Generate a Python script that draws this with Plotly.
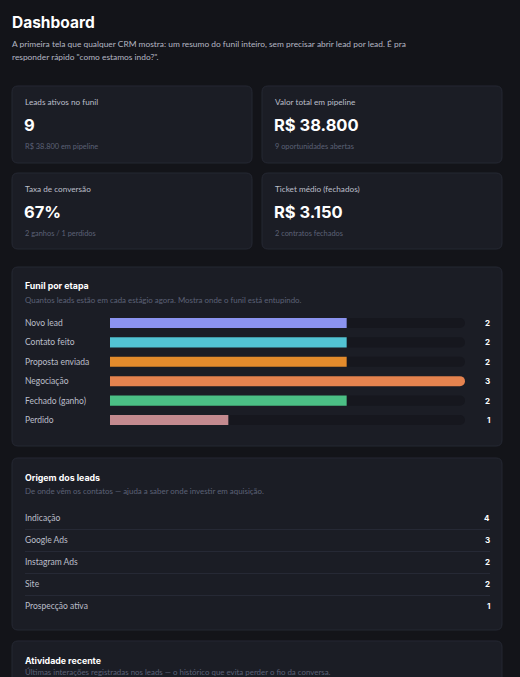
import plotly.graph_objects as go

W, H = 520, 677

# ---------------- data ----------------
page_title = "Dashboard"
page_sub = ["A primeira tela que qualquer CRM mostra: um resumo do funil inteiro, sem precisar abrir lead por lead. É pra",
            "responder rápido \"como estamos indo?\"."]

kpi_labels = ["Leads ativos no funil", "Valor total em pipeline", "Taxa de conversão", "Ticket médio (fechados)"]
kpi_values = ["9", "R$ 38.800", "67%", "R$ 3.150"]
kpi_subs = ["R$ 38.800 em pipeline", "9 oportunidades abertas", "2 ganhos / 1 perdidos", "2 contratos fechados"]

stages = ["Novo lead", "Contato feito", "Proposta enviada", "Negociação", "Fechado (ganho)", "Perdido"]
stage_counts = [2, 2, 2, 3, 2, 1]
stage_colors = ["#8b93ef", "#52c3d3", "#e38b2c", "#e5834f", "#4bbf85", "#c48a8f"]

sources = ["Indicação", "Google Ads", "Instagram Ads", "Site", "Prospecção ativa"]
source_counts = [4, 3, 2, 2, 1]

# ---------------- style ----------------
BG = "#131419"
CARD = "#1b1d25"
BORDER = "#252833"
LBL = "#bcbfca"
MUTED = "#5c6176"
BODY = "Lato"
HEAD = "Inter"


def px(x):
    return x / W


def py(y):
    return 1 - y / H


def rrect(x0, y0, x1, y1, r=6):
    X = lambda v: f"{px(v):.5f}"
    Y = lambda v: f"{py(v):.5f}"
    return (f"M{X(x0+r)},{Y(y0)} L{X(x1-r)},{Y(y0)} Q{X(x1)},{Y(y0)} {X(x1)},{Y(y0+r)} "
            f"L{X(x1)},{Y(y1-r)} Q{X(x1)},{Y(y1)} {X(x1-r)},{Y(y1)} "
            f"L{X(x0+r)},{Y(y1)} Q{X(x0)},{Y(y1)} {X(x0)},{Y(y1-r)} "
            f"L{X(x0)},{Y(y0+r)} Q{X(x0)},{Y(y0)} {X(x0+r)},{Y(y0)} Z")


shapes = []
annotations = []


def card(x0, y0, x1, y1):
    shapes.append(dict(type="path", path=rrect(x0, y0, x1, y1), xref="paper", yref="paper",
                       fillcolor=CARD, line=dict(color=BORDER, width=1), layer="below"))


def text(x, y, s, size, color, family=BODY, anchor="left", bold=False):
    annotations.append(dict(x=px(x), y=py(y), xref="paper", yref="paper", text=(f"<b>{s}</b>" if bold else s),
                            showarrow=False, xanchor=anchor, yanchor="middle", borderpad=0,
                            xshift=-1 if anchor == "left" else 1,
                            font=dict(size=size, color=color, family=family)))


# header
text(12, 22, page_title, 15.5, "#ffffff", HEAD, bold=True)
text(12, 44, page_sub[0], 8.4, "#b4b7c3")
text(12, 57, page_sub[1], 8.4, "#b4b7c3")

# KPI cards
kpi_boxes = [(12, 86, 252, 163), (262, 86, 502, 163), (12, 173, 252, 249), (262, 173, 502, 249)]
for (x0, y0, x1, y1), lab, val, sub in zip(kpi_boxes, kpi_labels, kpi_values, kpi_subs):
    card(x0, y0, x1, y1)
    text(x0 + 13, y0 + 16, lab, 8.2, LBL)
    text(x0 + 12, y0 + 39, val, 16.5, "#ffffff", HEAD, bold=True)
    text(x0 + 13, y0 + 61, sub, 7.4, MUTED)

# funnel card
card(12, 267, 502, 446)
text(25, 285, "Funil por etapa", 8.8, "#ffffff", HEAD, bold=True)
text(25, 300, "Quantos leads estão em cada estágio agora. Mostra onde o funil está entupindo.", 7.9, MUTED)

row_h = 19.4
top = 323 - row_h / 2
for i, (s, c) in enumerate(zip(stages, stage_counts)):
    yc = top + row_h * (i + 0.5)
    text(25, yc, s, 8.5, LBL)
    text(490, yc, str(c), 8, "#ffffff", HEAD, anchor="right", bold=True)

max_c = max(stage_counts)
fig = go.Figure()
fig.add_trace(go.Bar(y=stages, x=[max_c] * len(stages), orientation="h", marker=dict(color="#16171e", line=dict(width=0)),
                     width=0.52, hoverinfo="skip", showlegend=False))
fig.add_trace(go.Bar(y=stages, x=stage_counts, orientation="h", marker=dict(color=stage_colors, line=dict(width=0)),
                     width=0.52, showlegend=False))

# origem card
card(12, 458, 502, 630)
text(25, 477, "Origem dos leads", 8.8, "#ffffff", HEAD, bold=True)
text(25, 491, "De onde vêm os contatos — ajuda a saber onde investir em aquisição.", 7.9, MUTED)
for i, (s, c) in enumerate(zip(sources, source_counts)):
    yc = 518 + 22 * i
    text(25, yc, s, 8.5, LBL)
    text(490, yc, str(c), 8, "#ffffff", HEAD, anchor="right", bold=True)
    if i < len(sources) - 1:
        shapes.append(dict(type="line", xref="paper", yref="paper", x0=px(25), x1=px(490),
                           y0=py(yc + 11.5), y1=py(yc + 11.5), line=dict(color="#262935", width=1)))

# atividade card
card(12, 641, 502, 720)
text(25, 660, "Atividade recente", 8.8, "#ffffff", HEAD, bold=True)
text(25, 672, "Últimas interações registradas nos leads — o histórico que evita perder o fio da conversa.", 7.9, MUTED)

fig.update_layout(
    width=W, height=H, margin=dict(l=0, r=0, t=0, b=0),
    paper_bgcolor=BG, plot_bgcolor="rgba(0,0,0,0)", barmode="overlay", barcornerradius=5,
    xaxis=dict(domain=[px(110), px(465)], range=[0, max_c], visible=False, fixedrange=True),
    yaxis=dict(domain=[py(top + row_h * 6), py(top)], range=[5.5, -0.5], visible=False, fixedrange=True,
               categoryorder="array", categoryarray=stages),
    shapes=shapes, annotations=annotations, showlegend=False,
)

fig.write_html("out.html", config=dict(displayModeBar=False),
               post_script="document.body.style.margin='0';document.body.style.overflow='hidden';"
                           "document.body.style.background='#131419';")
